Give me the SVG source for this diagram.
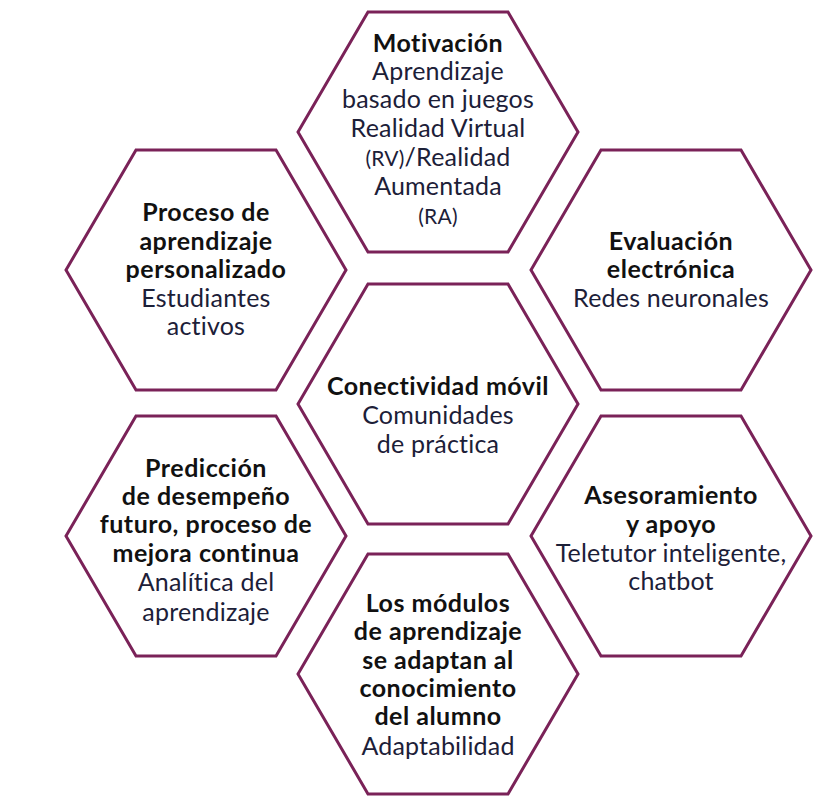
<svg xmlns="http://www.w3.org/2000/svg" width="839" height="809" viewBox="0 0 839 809">
<style>
.hex{fill:#ffffff;stroke:#7a2258;stroke-width:3;stroke-linejoin:miter}
text{font-family:Lato,"Open Sans","Liberation Sans",sans-serif;font-size:25px;text-anchor:middle}
.b{font-weight:bold;fill:#111111;letter-spacing:0.5px}
.r{fill:#1c2038;letter-spacing:0.2px}
.s{font-size:21px}
</style>
<defs>
<polygon id="hx" points="-140,0 -70,-120 70,-120 140,0 70,120 -70,120"/>
</defs>
<rect width="839" height="809" fill="#ffffff"/>
<g id="connectors"></g>
<g id="motivacion">
<use href="#hx" class="hex" x="438" y="132"/>
<text x="438" y="52" class="b">Motivación</text>
<text x="438" y="80" class="r">Aprendizaje</text>
<text x="438" y="108" class="r">basado en juegos</text>
<text x="438" y="137" class="r">Realidad Virtual</text>
<text x="438" y="166" class="r"><tspan class="s">(RV)</tspan>/Realidad</text>
<text x="438" y="195" class="r">Aumentada</text>
<text x="438" y="224" class="r s">(RA)</text>
</g>
<g id="proceso">
<use href="#hx" class="hex" x="206" y="270"/>
<text x="206" y="221" class="b">Proceso de</text>
<text x="206" y="250" class="b">aprendizaje</text>
<text x="206" y="278" class="b">personalizado</text>
<text x="206" y="307" class="r">Estudiantes</text>
<text x="206" y="335" class="r">activos</text>
</g>
<g id="evaluacion">
<use href="#hx" class="hex" x="671" y="270"/>
<text x="671" y="250" class="b">Evaluación</text>
<text x="671" y="278" class="b">electrónica</text>
<text x="671" y="307" class="r">Redes neuronales</text>
</g>
<g id="conectividad">
<use href="#hx" class="hex" x="438" y="404"/>
<text x="438" y="395" class="b">Conectividad móvil</text>
<text x="438" y="424" class="r">Comunidades</text>
<text x="438" y="453" class="r">de práctica</text>
</g>
<g id="prediccion">
<use href="#hx" class="hex" x="206" y="536"/>
<text x="206" y="477" class="b">Predicción</text>
<text x="206" y="505" class="b">de desempeño</text>
<text x="206" y="533" class="b">futuro, proceso de</text>
<text x="206" y="562" class="b">mejora continua</text>
<text x="206" y="591" class="r">Analítica del</text>
<text x="206" y="621" class="r">aprendizaje</text>
</g>
<g id="asesoramiento">
<use href="#hx" class="hex" x="671" y="536"/>
<text x="671" y="504" class="b">Asesoramiento</text>
<text x="671" y="533" class="b">y apoyo</text>
<text x="671" y="562" class="r">Teletutor inteligente,</text>
<text x="671" y="590" class="r">chatbot</text>
</g>
<g id="modulos">
<use href="#hx" class="hex" x="438" y="674"/>
<text x="438" y="612" class="b">Los módulos</text>
<text x="438" y="640" class="b">de aprendizaje</text>
<text x="438" y="669" class="b">se adaptan al</text>
<text x="438" y="697" class="b">conocimiento</text>
<text x="438" y="725" class="b">del alumno</text>
<text x="438" y="755" class="r">Adaptabilidad</text>
</g>
</svg>
